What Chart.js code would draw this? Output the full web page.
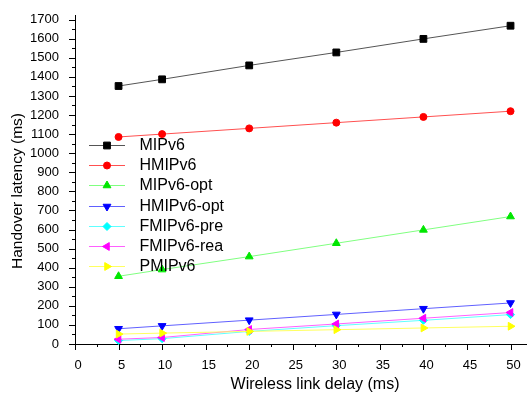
<!DOCTYPE html>
<html>
<head>
<meta charset="utf-8">
<script src="https://cdn.jsdelivr.net/npm/chart.js@4.4.1/dist/chart.umd.min.js"></script>
<style>
  body { margin: 0; background: #fff; }
  #wrap { width: 532px; height: 399px; }
</style>
</head>
<body>
<div id="wrap"><canvas id="latencyChart" width="532" height="399"></canvas></div>
<script>
// wireless link delay (ms)
const delays = [5, 10, 20, 30, 40, 50];

const seriesNames = ['MIPv6', 'HMIPv6', 'MIPv6-opt', 'HMIPv6-opt', 'FMIPv6-pre', 'FMIPv6-rea', 'PMIPv6'];

// handover latency (ms)
const mipv6 = [1352, 1387, 1460, 1528, 1599, 1668];
const hmipv6 = [1085, 1100, 1130, 1160, 1190, 1220];
const mipv6Opt = [355, 390, 458, 528, 598, 668];
const hmipv6Opt = [80, 95, 125, 155, 185, 215];
const fmipv6Pre = [18, 28, 66, 96, 124, 154];
const fmipv6Rea = [25, 34, 76, 105, 135, 165];
const pmipv6 = [52, 57, 66, 75, 84, 93];

const xTicks = [0, 5, 10, 15, 20, 25, 30, 35, 40, 45, 50];
const yTicks = [0, 100, 200, 300, 400, 500, 600, 700, 800, 900, 1000, 1100, 1200, 1300, 1400, 1500, 1600, 1700];

const allSeries = [mipv6, hmipv6, mipv6Opt, hmipv6Opt, fmipv6Pre, fmipv6Rea, pmipv6];

// styles
const markerColors = ['#000000', '#ff0000', '#00e600', '#0000ff', '#00ffff', '#ff00ff', '#ffff00'];
const lineColors = ['#555555', '#ff5050', '#80ff80', '#6060ff', '#60ffff', '#ff60ff', '#ffff60'];
const markerShapes = ['rect', 'circle', 'triangle', 'triangle', 'rectRot', 'triangle', 'triangle'];
const markerRotations = [0, 0, 0, 180, 0, -90, 90];
const markerRadius = [4.8, 3.5, 4.5, 4.5, 4, 4.5, 4.5];

const FONT = "'Liberation Sans', Arial, sans-serif";

function drawMarker(ctx, i, x, y) {
    ctx.fillStyle = markerColors[i];
    ctx.strokeStyle = markerColors[i];
    const opts = {
        pointStyle: markerShapes[i],
        rotation: markerRotations[i],
        radius: markerRadius[i],
        borderWidth: 1
    };
    if (Chart.helpers && Chart.helpers.drawPoint) {
        Chart.helpers.drawPoint(ctx, opts, x, y);
    } else {
        ctx.beginPath();
        ctx.arc(x, y, markerRadius[i], 0, Math.PI * 2);
        ctx.fill();
    }
}

const decorPlugin = {
    id: 'decor',
    afterDraw(chart) {
        const ctx = chart.ctx;
        const area = chart.chartArea;
        const xs = chart.scales.x;
        const ys = chart.scales.y;

        ctx.save();
        ctx.strokeStyle = '#000';
        ctx.lineWidth = 1;
        ctx.beginPath();
        // x ticks, major + minor
        for (let v = 0; v <= 50; v += 2.5) {
            const px = Math.round(xs.getPixelForValue(v)) + 0.5;
            const len = v % 5 === 0 ? 6 : 3;
            ctx.moveTo(px, area.bottom);
            ctx.lineTo(px, area.bottom + len);
        }
        // y ticks
        for (let v = 0; v <= 1700; v += 50) {
            const py = Math.round(ys.getPixelForValue(v)) + 0.5;
            const len = v % 100 === 0 ? 6 : 3;
            ctx.moveTo(area.left, py);
            ctx.lineTo(area.left - len, py);
        }
        ctx.stroke();

        // axis titles
        ctx.fillStyle = '#000';
        ctx.textAlign = 'center';
        ctx.textBaseline = 'middle';
        ctx.font = '16px ' + FONT;
        ctx.fillText('Wireless link delay (ms)', 315, 385);
        ctx.save();
        ctx.font = '15.5px ' + FONT;
        ctx.translate(18, 191);
        ctx.rotate(-Math.PI / 2);
        ctx.fillText('Handover latency (ms)', 0, 0);
        ctx.restore();

        // legend
        ctx.font = '16px ' + FONT;
        ctx.textAlign = 'left';
        for (let i = 0; i < seriesNames.length; i++) {
            const yy = 145 + i * 20.2;
            ctx.strokeStyle = lineColors[i];
            ctx.beginPath();
            ctx.moveTo(89, Math.round(yy) + 0.5);
            ctx.lineTo(125, Math.round(yy) + 0.5);
            ctx.stroke();
            drawMarker(ctx, i, 107, Math.round(yy) + 0.5);
            ctx.fillStyle = '#000';
            ctx.fillText(seriesNames[i], 139.5, yy + 0.5);
        }
        ctx.restore();
    }
};

const datasets = seriesNames.map((name, i) => ({
    label: name,
    data: delays.map((d, k) => ({ x: d, y: allSeries[i][k] })),
    borderColor: lineColors[i],
    backgroundColor: markerColors[i],
    borderWidth: 1,
    pointStyle: markerShapes[i],
    rotation: markerRotations[i],
    pointRadius: markerRadius[i],
    pointBackgroundColor: markerColors[i],
    pointBorderColor: markerColors[i],
    pointBorderWidth: 1,
    tension: 0,
    clip: false,
    order: seriesNames.length - i
}));

new Chart(document.getElementById('latencyChart'), {
    type: 'line',
    data: { datasets: datasets },
    options: {
        responsive: false,
        animation: false,
        devicePixelRatio: 1,
        layout: { padding: { top: 13, right: 0, bottom: 0, left: 0 } },
        plugins: {
            legend: { display: false },
            tooltip: { enabled: false }
        },
        scales: {
            x: {
                type: 'linear',
                min: 0,
                max: 51.8,
                afterFit: function(scale) { scale.height = 55; },
                afterBuildTicks: function(scale) {
                    scale.ticks = xTicks.map(v => ({ value: v }));
                },
                grid: { display: false },
                border: { display: true, color: '#000', width: 1 },
                ticks: {
                    color: '#000',
                    font: { family: FONT, size: 13 },
                    padding: 6,
                    labelOffset: 3,
                    maxRotation: 0,
                    autoSkip: false,
                    callback: v => String(v)
                }
            },
            y: {
                type: 'linear',
                min: 0,
                max: 1720,
                afterFit: function(scale) { scale.width = 75; },
                afterBuildTicks: function(scale) {
                    scale.ticks = yTicks.map(v => ({ value: v }));
                },
                grid: { display: false },
                border: { display: true, color: '#000', width: 1 },
                ticks: {
                    color: '#000',
                    font: { family: FONT, size: 13 },
                    padding: 8,
                    autoSkip: false,
                    callback: v => String(v)
                }
            }
        }
    },
    plugins: [decorPlugin]
});
</script>
</body>
</html>
